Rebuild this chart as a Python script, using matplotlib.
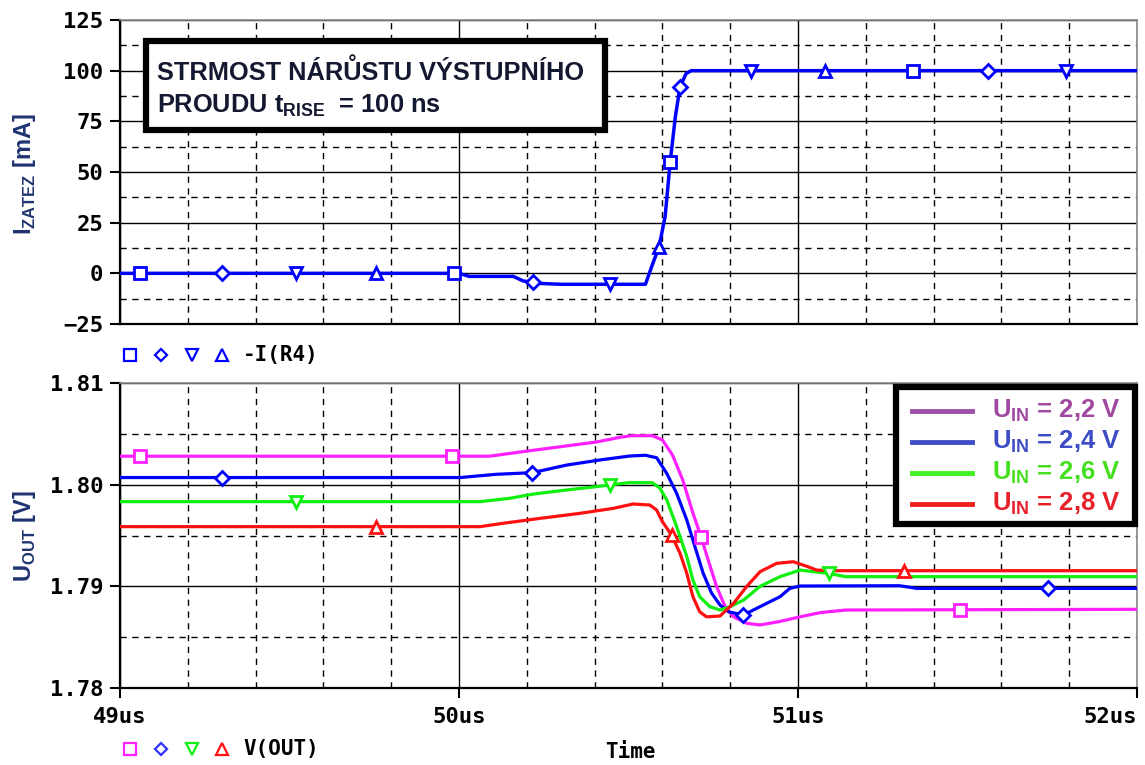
import numpy as np
import matplotlib
matplotlib.use('Agg')
import matplotlib.pyplot as plt
from matplotlib.lines import Line2D
from matplotlib.patches import Rectangle

# ---- data (time in us) ----
# top panel: load current -I(R4) in mA
t_i = [49.0, 50.0, 50.03, 50.16, 50.19, 50.217, 50.24, 50.3, 50.55,
       50.572, 50.59, 50.608, 50.623, 50.638, 50.652, 50.67, 50.685, 52.0]
i_load = [0.0, 0.0, -1.5, -1.5, -3.8, -4.3, -5.0, -5.4, -5.4,
          5.0, 13.0, 28.0, 55.0, 77.0, 92.0, 98.6, 100.0, 100.0]
i_mark_sq = [49.06, 49.985, 50.623, 51.34]
i_mark_di = [49.30, 50.217, 50.652, 51.56]
i_mark_dn = [49.52, 50.445, 50.86, 51.79]
i_mark_up = [49.755, 50.59, 51.08]

# bottom panel: V(OUT) for four input voltages
t_22 = [49.0, 50.09, 50.2, 50.406, 50.475, 50.51, 50.57, 50.6, 50.63, 50.66, 50.69,
        50.714, 50.735, 50.76, 50.785, 50.81, 50.849, 50.888, 50.947, 51.006, 51.065,
        51.14, 52.0]
v_22 = [1.8028, 1.8028, 1.8033, 1.8042, 1.80466, 1.80482, 1.80482, 1.8044, 1.8029,
        1.80046, 1.79721, 1.79488, 1.79259, 1.78997, 1.788, 1.7870, 1.78636, 1.7862,
        1.78655, 1.7870, 1.78741, 1.78767, 1.78774]
t_24 = [49.0, 50.003, 50.11, 50.216, 50.318, 50.416, 50.504, 50.55, 50.583, 50.613,
        50.642, 50.672, 50.696, 50.72, 50.745, 50.77, 50.795, 50.839, 50.888, 50.947,
        50.976, 51.006, 51.3, 51.35, 52.0]
v_24 = [1.8007, 1.8007, 1.80102, 1.80118, 1.80193, 1.80243, 1.80282, 1.80289, 1.80265,
        1.8011, 1.79915, 1.79652, 1.7939, 1.79131, 1.78934, 1.78816, 1.7875, 1.78718,
        1.788, 1.78898, 1.7898, 1.79003, 1.79006, 1.7898, 1.7898]
t_26 = [49.0, 50.062, 50.15, 50.22, 50.318, 50.406, 50.445, 50.5, 50.57, 50.593, 50.613,
        50.642, 50.672, 50.69, 50.71, 50.74, 50.77, 50.8, 50.84, 50.888, 50.947, 51.006,
        51.045, 51.09, 51.14, 52.0]
v_26 = [1.79833, 1.79833, 1.79866, 1.79908, 1.79948, 1.79981, 1.79997, 1.8002, 1.8002,
        1.79964, 1.79849, 1.79587, 1.79292, 1.79062, 1.78898, 1.788, 1.78767, 1.788,
        1.78866, 1.79, 1.79095, 1.7916, 1.79144, 1.79128, 1.79095, 1.79095]
t_28 = [49.0, 50.062, 50.13, 50.24, 50.357, 50.455, 50.514, 50.563, 50.583, 50.6, 50.627,
        50.652, 50.672, 50.69, 50.71, 50.73, 50.77, 50.81, 50.849, 50.888, 50.937, 50.986,
        51.026, 51.055, 51.1, 52.0]
v_28 = [1.79587, 1.79587, 1.7962, 1.79669, 1.79718, 1.79767, 1.7981, 1.798, 1.7975,
        1.79636, 1.79505, 1.79325, 1.79128, 1.78898, 1.7875, 1.787, 1.78708, 1.78833,
        1.79, 1.79144, 1.79226, 1.79242, 1.79197, 1.7916, 1.79154, 1.79154]
v_marks_22 = [49.06, 49.98, 50.714, 51.478]
v_marks_24 = [49.30, 50.216, 50.839, 51.738]
v_marks_26 = [49.52, 50.445, 51.09]
v_marks_28 = [49.755, 50.627, 51.313]

legend_labels = ['2,2', '2,4', '2,6', '2,8']

x_ticks = [49, 50, 51, 52]
x_ticklabels = ['49us', '50us', '51us', '52us']
i_ticks = [-25, 0, 25, 50, 75, 100, 125]
i_ticklabels = ['\u221225', '0', '25', '50', '75', '100', '125']
v_ticks = [1.78, 1.79, 1.80, 1.81]
v_ticklabels = ['1.78', '1.79', '1.80', '1.81']

plt.rcParams['mathtext.fontset'] = 'custom'
plt.rcParams['mathtext.rm'] = 'Liberation Sans'
plt.rcParams['mathtext.bf'] = 'Liberation Sans:bold'

W, H = 1145, 765
fig = plt.figure(figsize=(W / 100, H / 100), dpi=100)


def fx(px):
    return px / W


def fy(py):
    return 1 - py / H


mono = dict(family='DejaVu Sans Mono', weight='bold')
label_color = '#1e3370'

ax1 = fig.add_axes([fx(120), fy(324), (1137 - 120) / W, (324 - 20) / H])
ax2 = fig.add_axes([fx(120), fy(688), (1137 - 120) / W, (688 - 383) / H])

for ax in (ax1, ax2):
    ax.set_xlim(49, 52)
    ax.set_xticks(np.arange(49, 52.01, 0.2), minor=True)
    ax.grid(which='major', color='black', lw=1.0, ls='-')
    ax.grid(which='minor', color='black', lw=1.0, ls=(0, (4.5, 4)))
    ax.tick_params(which='minor', length=0)
    ax.tick_params(which='major', direction='out', length=7, width=1.5, pad=5)
    ax.set_axisbelow(True)
    ax.spines['left'].set_linewidth(1.6)
    ax.spines['bottom'].set_linewidth(1.6)
    for s in ('top', 'right'):
        ax.spines[s].set_color('#8a8a8a')
        ax.spines[s].set_linewidth(1.2)

# ---- top panel ----
ax1.set_ylim(-25, 125)
ax1.set_yticks(i_ticks, i_ticklabels, fontsize=16, **mono)
ax1.set_yticks(np.arange(-12.5, 125, 25), minor=True)
ax1.set_xticks(x_ticks)
ax1.tick_params(axis='x', which='both', length=0, labelbottom=False)

blue = '#0000ff'
ax1.plot(t_i, i_load, color=blue, lw=2.5, zorder=3)
for mt, mk, ms in ((i_mark_sq, 's', 9), (i_mark_di, 'D', 7), (i_mark_dn, 'v', 9), (i_mark_up, '^', 9)):
    ax1.plot(mt, np.interp(mt, t_i, i_load), ls='none', marker=mk, ms=ms,
             mfc='white', mec=blue, mew=2, zorder=4)

# ---- bottom panel ----
ax2.set_ylim(1.78, 1.81)
ax2.set_yticks(v_ticks, v_ticklabels, fontsize=16, **mono)
ax2.set_yticks([1.785, 1.795, 1.805], minor=True)
ax2.set_xticks(x_ticks, x_ticklabels, fontsize=16, **mono)
ax2.tick_params(axis='x', pad=7)
ax2.get_xticklabels()[-1].set_horizontalalignment('right')

series = [
    (t_22, v_22, v_marks_22, 's', 9, '#ff20ff'),
    (t_24, v_24, v_marks_24, 'D', 7, '#0000ff'),
    (t_26, v_26, v_marks_26, 'v', 9, '#10ef10'),
    (t_28, v_28, v_marks_28, '^', 9, '#ff1010'),
]
for t, v, mt, mk, ms, c in series:
    ax2.plot(t, v, color=c, lw=2.3, zorder=3)
    ax2.plot(mt, np.interp(mt, t, v), ls='none', marker=mk, ms=ms,
             mfc='white', mec=c, mew=2, zorder=4)

# ---- axis titles ----
fig.text(fx(25), fy(174), r'I$_{\mathbf{ZATEZ}}$ [mA]', rotation=90, ha='center', va='center',
         fontsize=17, fontweight='bold', family='Liberation Sans', color=label_color)
fig.text(fx(25), fy(536), r'U$_{\mathbf{OUT}}$ [V]', rotation=90, ha='center', va='center',
         fontsize=17, fontweight='bold', family='Liberation Sans', color=label_color)
fig.text(fx(630), fy(752), 'Time', ha='center', va='center', fontsize=15, **mono)

# ---- PSpice trace legends under each panel ----
def trace_legend(y_px, colors, name):
    for xp, mk, c in zip((130, 161, 192, 222), ('s', 'D', 'v', '^'), colors):
        fig.add_artist(Line2D([fx(xp)], [fy(y_px)], transform=fig.transFigure, ls='none',
                              marker=mk, ms=8 if mk != 'D' else 6.5, mfc='white', mec=c, mew=1.6))
    fig.text(fx(243), fy(y_px), name, ha='left', va='center', fontsize=15, **mono)


trace_legend(355, [blue] * 4, '-I(R4)')
trace_legend(749, ['#ff20ff', '#3030ff', '#10ef10', '#ff1010'], 'V(OUT)')

# ---- annotation box in top panel ----
fig.add_artist(Rectangle((fx(146), fy(130)), (605 - 146) / W, (130 - 41) / H,
                         transform=fig.transFigure, facecolor='white', edgecolor='black',
                         lw=4.5, zorder=5))
fig.text(fx(157), fy(80), 'STRMOST NÁRŮSTU VÝSTUPNÍHO', ha='left', va='baseline',
         fontsize=18.3, fontweight='bold', family='Liberation Sans', color='#141830', zorder=6)
fig.text(fx(157), fy(113), r'PROUDU t$_{\mathbf{RISE}}$  = 100 ns', ha='left', va='baseline',
         fontsize=18.3, fontweight='bold', family='Liberation Sans', color='#141830', zorder=6)

# ---- input-voltage legend box in bottom panel ----
fig.add_artist(Rectangle((fx(896), fy(524)), (1135 - 896) / W, (524 - 387) / H,
                         transform=fig.transFigure, facecolor='white', edgecolor='black',
                         lw=4.5, zorder=5))
leg_line = ['#a050a8', '#4050c4', '#40f020', '#f02020']
leg_text = ['#a048a0', '#3c4cc4', '#44e020', '#e8202a']
for k, (lab, lc, tc) in enumerate(zip(legend_labels, leg_line, leg_text)):
    yp = 411 + 31 * k
    fig.add_artist(Line2D([fx(912), fx(972)], [fy(yp), fy(yp)], transform=fig.transFigure,
                          color=lc, lw=3.5, zorder=6))
    fig.text(fx(992), fy(yp), r'U$_{\mathbf{IN}}$ = ' + lab + ' V', ha='left', va='center',
             fontsize=18.5, fontweight='bold', family='Liberation Sans', color=tc, zorder=6)

fig.savefig('out.png', dpi=100)
